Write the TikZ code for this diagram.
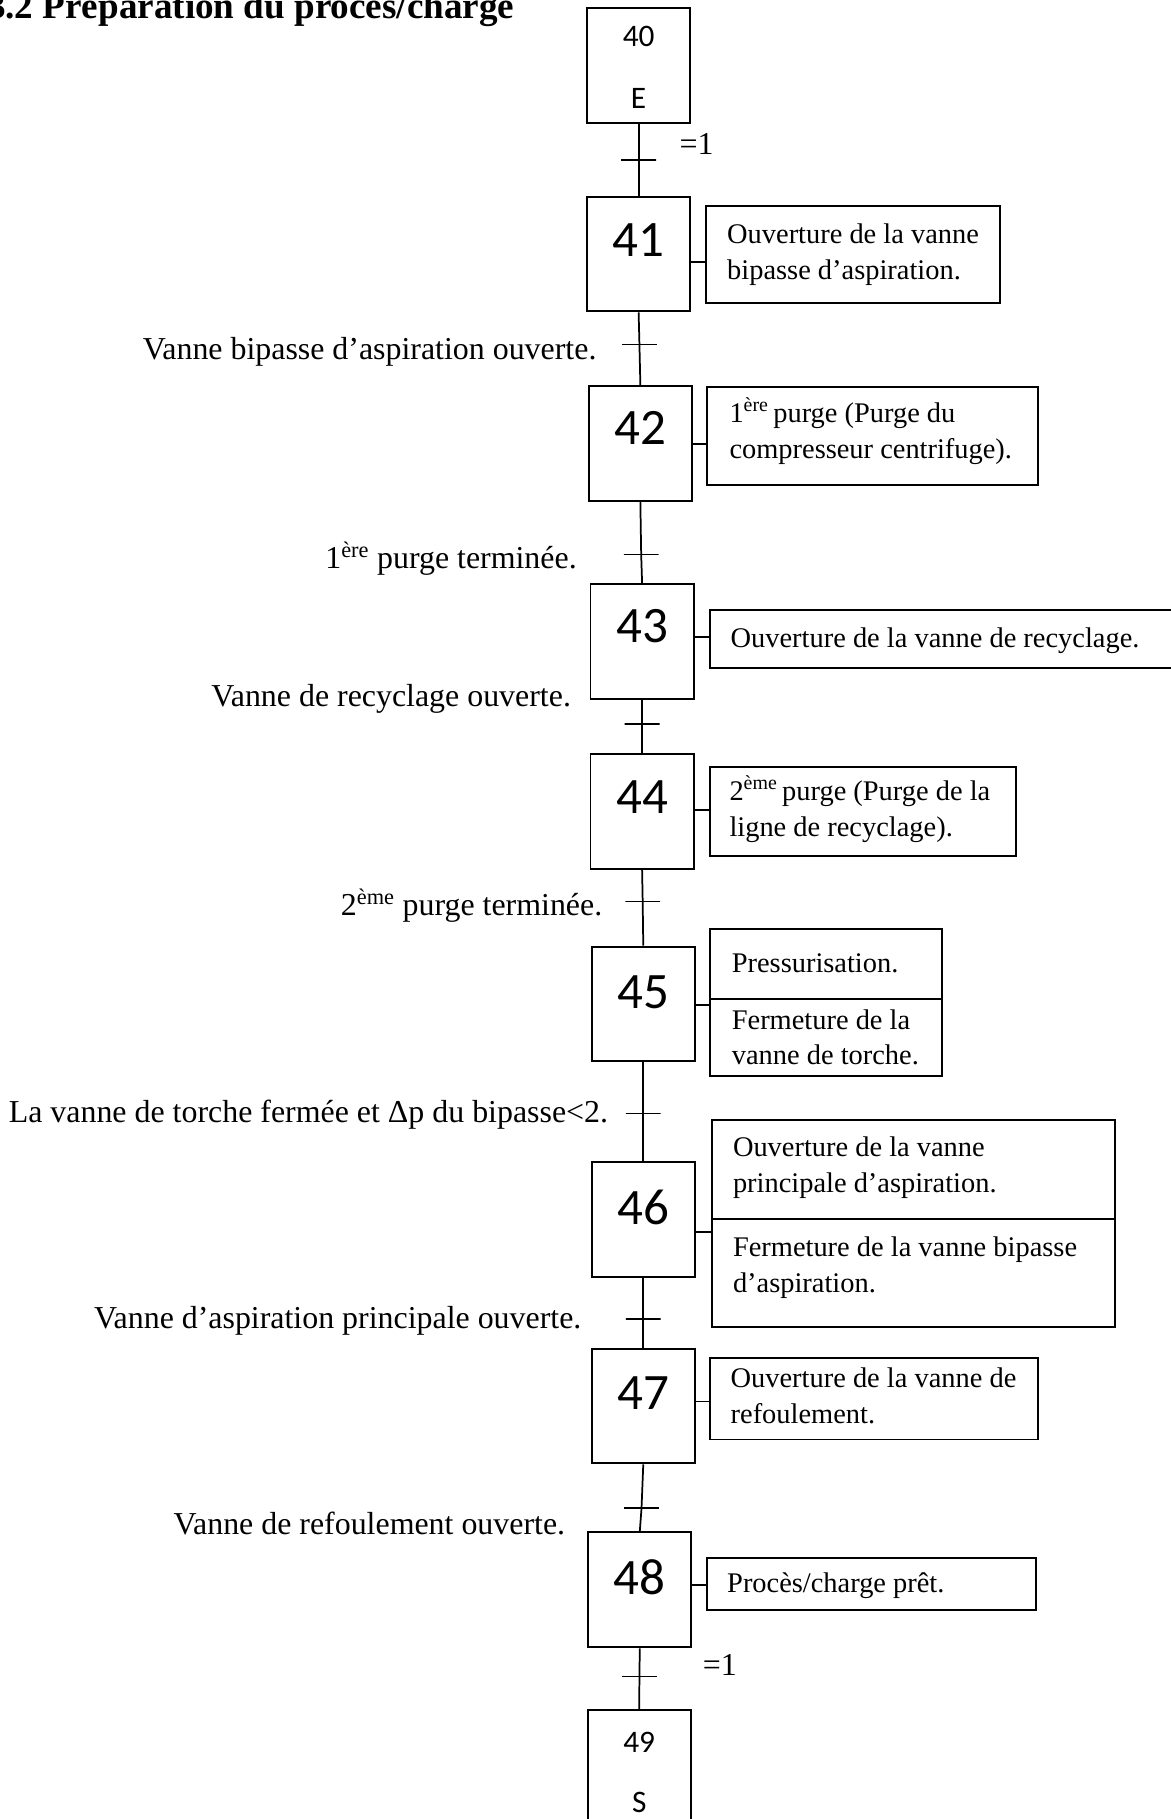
\documentclass[tikz,border=0pt]{standalone}
\usepackage{fontspec}
\setmainfont{Liberation Serif}
\newfontfamily\numfont{Carlito}
\begin{document}
\begin{tikzpicture}[x=1pt,y=-1pt,
  line width=1.7pt,
  stepbox/.style={draw, rectangle, minimum width=89pt, minimum height=99pt, inner sep=0pt},
  bignum/.style={inner sep=0pt, font=\numfont\fontsize{44}{44}\selectfont},
  smallnum/.style={inner sep=0pt, font=\numfont\fontsize{27}{27}\selectfont},
  trbar/.style={draw, rectangle, minimum width=30pt, minimum height=0pt, inner sep=0pt, line width=1.1pt},
  cond/.style={inner sep=0pt, anchor=base east, font=\fontsize{27.5}{33}\selectfont},
  condr/.style={inner sep=0pt, anchor=base west, font=\fontsize{27.5}{33}\selectfont},
  actbox/.style={draw, rectangle, inner sep=0pt, anchor=north west},
  acttxt/.style={inner sep=0pt, anchor=base west, font=\fontsize{24.5}{31}\selectfont},
  link/.style={line width=1.5pt}
]
\useasboundingbox (0,0) rectangle (1009,1568);

% heading
\node[inner sep=0pt, anchor=base west, font=\bfseries\fontsize{32}{36}\selectfont] (title) at (-12,16) {3.2 Préparation du procès/charge};

% steps
\node[stepbox] (s40) at (550.5,56.5) {};
\node[stepbox] (s41) at (550.5,219) {};
\node[stepbox] (s42) at (552,382.5) {};
\node[stepbox] (s43) at (553.5,553) {};
\node[stepbox] (s44) at (553.5,699.5) {};
\node[stepbox] (s45) at (554.5,865.5) {};
\node[stepbox] (s46) at (554.5,1051) {};
\node[stepbox] (s47) at (554.5,1212) {};
\node[stepbox] (s48) at (551.5,1370.5) {};
\node[stepbox] (s49) at (551,1523.5) {};

% step numbers
\node[smallnum] (n40) at ([yshift=25.5pt]s40.center) {40};
\node[smallnum] (e40) at ([yshift=-28.5pt]s40.center) {E};
\node[bignum] (n41) at ([yshift=12pt]s41.center) {41};
\node[bignum] (n42) at ([yshift=13.5pt]s42.center) {42};
\node[bignum] (n43) at ([yshift=13pt]s43.center) {43};
\node[bignum] (n44) at ([yshift=12.5pt]s44.center) {44};
\node[bignum] (n45) at ([yshift=10.5pt]s45.center) {45};
\node[bignum] (n46) at ([yshift=10pt]s46.center) {46};
\node[bignum] (n47) at ([yshift=11pt]s47.center) {47};
\node[bignum] (n48) at ([yshift=10.5pt]s48.center) {48};
\node[smallnum] (n49) at ([yshift=21.5pt]s49.center) {49};
\node[smallnum] (e49) at ([yshift=-30pt]s49.center) {S};

% transitions
\node[trbar] (t1) at (550.5,138) {};
\node[trbar] (t2) at (551.2,297) {};
\node[trbar] (t3) at (552.7,478) {};
\node[trbar] (t4) at (553.5,624) {};
\node[trbar] (t5) at (554,777) {};
\node[trbar] (t6) at (554.5,960) {};
\node[trbar] (t7) at (554.5,1137) {};
\node[trbar] (t8) at (553,1300) {};
\node[trbar] (t9) at (551.2,1445) {};

% vertical links through the transitions
\draw[link] (s40.south) -- (t1.center) -- (s41.north);
\draw[link] (s41.south) -- (t2.center) -- (s42.north);
\draw[link] (s42.south) -- (t3.center) -- (s43.north);
\draw[link] (s43.south) -- (t4.center) -- (s44.north);
\draw[link] (s44.south) -- (t5.center) -- (s45.north);
\draw[link] (s45.south) -- (t6.center) -- (s46.north);
\draw[link] (s46.south) -- (t7.center) -- (s47.north);
\draw[link] (s47.south) -- (t8.center) -- (s48.north);
\draw[link] (s48.south) -- (t9.center) -- (s49.north);

% receptivities
\node[condr] (c1) at (585,133) {=1};
\node[cond] (c2) at (515,310) {Vanne bipasse d’aspiration ouverte.};
\node[cond] (c3) at (498,490) {1\textsuperscript{ère} purge terminée.};
\node[cond] (c4) at (493,609) {Vanne de recyclage ouverte.};
\node[cond] (c5) at (520,789) {2\textsuperscript{ème} purge terminée.};
\node[cond] (c6) at (525,968) {La vanne de torche fermée et Δp du bipasse<2.};
\node[cond] (c7) at (502,1145) {Vanne d’aspiration principale ouverte.};
\node[cond] (c8) at (488,1323) {Vanne de refoulement ouverte.};
\node[condr] (c9) at (605,1444) {=1};

% action boxes
\node[actbox, minimum width=253pt, minimum height=83pt] (a41) at (608,177) {};
\node[actbox, minimum width=285pt, minimum height=84pt] (a42) at (609,333) {};
\node[actbox, minimum width=409pt, minimum height=50pt] (a43) at (611,525) {};
\node[actbox, minimum width=264pt, minimum height=77pt] (a44) at (611,660) {};
\node[actbox, minimum width=200pt, minimum height=60pt] (a45a) at (611,800) {};
\node[actbox, minimum width=200pt, minimum height=67pt] (a45b) at (611,860) {};
\node[actbox, minimum width=347pt, minimum height=85pt] (a46a) at (613,965) {};
\node[actbox, minimum width=347pt, minimum height=93pt] (a46b) at (613,1050) {};
\node[actbox, minimum width=283pt, minimum height=70pt] (a47) at (611,1170) {};
\node[actbox, minimum width=283pt, minimum height=45pt] (a48) at (609,1342) {};

% stub levels
\coordinate (h41) at (0,226);
\coordinate (h42) at (0,383);
\coordinate (h43) at (0,549);
\coordinate (h44) at (0,698);
\coordinate (h45) at (0,866);
\coordinate (h46) at (0,1062);
\coordinate (h47) at (0,1208);
\coordinate (h48) at (0,1366);
\draw[link] (s41.east|-h41) -- (a41.west|-h41);
\draw[link] (s42.east|-h42) -- (a42.west|-h42);
\draw[link] (s43.east|-h43) -- (a43.west|-h43);
\draw[link] (s44.east|-h44) -- (a44.west|-h44);
\draw[link] (s45.east|-h45) -- (a45b.west|-h45);
\draw[link] (s46.east|-h46) -- (a46b.west|-h46);
\draw[link] (s47.east|-h47) -- (a47.west|-h47);
\draw[link] (s48.east|-h48) -- (a48.west|-h48);

% action texts
\node[acttxt] at (626,210) {Ouverture de la vanne};
\node[acttxt] at (626,241) {bipasse d’aspiration.};
\node[acttxt] at (628,364) {1\textsuperscript{ère}\,purge (Purge du};
\node[acttxt] at (628,395) {compresseur centrifuge).};
\node[acttxt] at (629,558) {Ouverture de la vanne de recyclage.};
\node[acttxt] at (628,690) {2\textsuperscript{ème}\,purge (Purge de la};
\node[acttxt] at (628,721) {ligne de recyclage).};
\node[acttxt] at (630,838) {Pressurisation.};
\node[acttxt] at (630,887) {Fermeture de la};
\node[acttxt] at (630,918) {vanne de torche.};
\node[acttxt] at (631,997) {Ouverture de la vanne};
\node[acttxt] at (631,1028) {principale d’aspiration.};
\node[acttxt] at (631,1083) {Fermeture de la vanne bipasse};
\node[acttxt] at (631,1114) {d’aspiration.};
\node[acttxt] at (629,1196) {Ouverture de la vanne de};
\node[acttxt] at (629,1227) {refoulement.};
\node[acttxt] at (626,1373) {Procès/charge prêt.};
\end{tikzpicture}
\end{document}
